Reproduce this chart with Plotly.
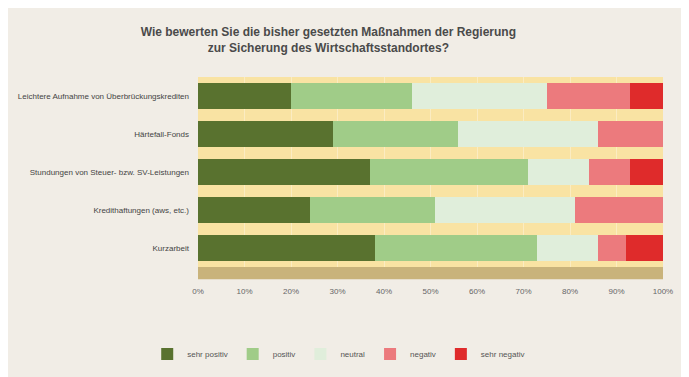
import plotly.graph_objects as go

categories = [
    "Leichtere Aufnahme von Überbrückungskrediten",
    "Härtefall-Fonds",
    "Stundungen von Steuer- bzw. SV-Leistungen",
    "Kredithaftungen (aws, etc.)",
    "Kurzarbeit",
]
series_names = ["sehr positiv", "positiv", "neutral", "negativ", "sehr negativ"]
sehr_positiv = [20, 29, 37, 24, 38]
positiv = [26, 27, 34, 27, 35]
neutral = [29, 30, 13, 30, 13]
negativ = [18, 14, 9, 19, 6]
sehr_negativ = [7, 0, 7, 0, 8]
tick_values = [0, 10, 20, 30, 40, 50, 60, 70, 80, 90, 100]
tick_labels = ["0%", "10%", "20%", "30%", "40%", "50%", "60%", "70%", "80%", "90%", "100%"]

series_values = [sehr_positiv, positiv, neutral, negativ, sehr_negativ]
colors = ["#59722f", "#a0cc88", "#e0eedb", "#ec7a7d", "#df2b2b"]

fig = go.Figure()
for name, vals, col in zip(series_names, series_values, colors):
    fig.add_trace(go.Bar(
        y=categories, x=vals, name=name, orientation="h",
        marker=dict(color=col, line=dict(width=0)),
        hovertemplate="%{y}: %{x}%<extra>" + name + "</extra>",
    ))

fig.update_layout(
    barmode="stack",
    bargap=0.32,
    width=689, height=377,
    paper_bgcolor="#f1ede6",
    plot_bgcolor="#f9e3a3",
    font=dict(family="Liberation Sans, Arial, sans-serif", size=8, color="#555555"),
    title=dict(
        text="<b>Wie bewerten Sie die bisher gesetzten Maßnahmen der Regierung<br>zur Sicherung des Wirtschaftsstandortes?</b>",
        x=0.465, xref="container", xanchor="center",
        y=0.925, yref="container", yanchor="top",
        font=dict(size=12, color="#4a4a4a"),
    ),
    margin=dict(l=190, r=34, t=69, b=118),
    legend=dict(
        orientation="h", xref="container", yref="container",
        x=0.48, xanchor="center", y=0.082, yanchor="middle",
        font=dict(size=8, color="#555555"), bgcolor="rgba(0,0,0,0)",
        itemwidth=30, traceorder="normal",
    ),
    showlegend=True,
)
fig.update_xaxes(
    range=[0, 100], tickvals=tick_values, ticktext=tick_labels,
    showgrid=True, gridcolor="#fbecc2", gridwidth=1,
    zeroline=False, tickfont=dict(size=8, color="#666666"),
    ticks="", ticklen=0, showline=False, automargin=False,
    ticklabelstandoff=18,
)
fig.update_yaxes(
    autorange="reversed", showgrid=False, automargin=False,
    tickfont=dict(size=8, color="#444444"), ticks="", ticklabelstandoff=8,
)
# tan floor band under the plot area
fig.add_shape(type="rect", xref="paper", yref="paper", x0=0, x1=1, y0=-0.065, y1=0,
              fillcolor="#c9b37b", line=dict(width=0), layer="below")

fig.write_html("out.html")
